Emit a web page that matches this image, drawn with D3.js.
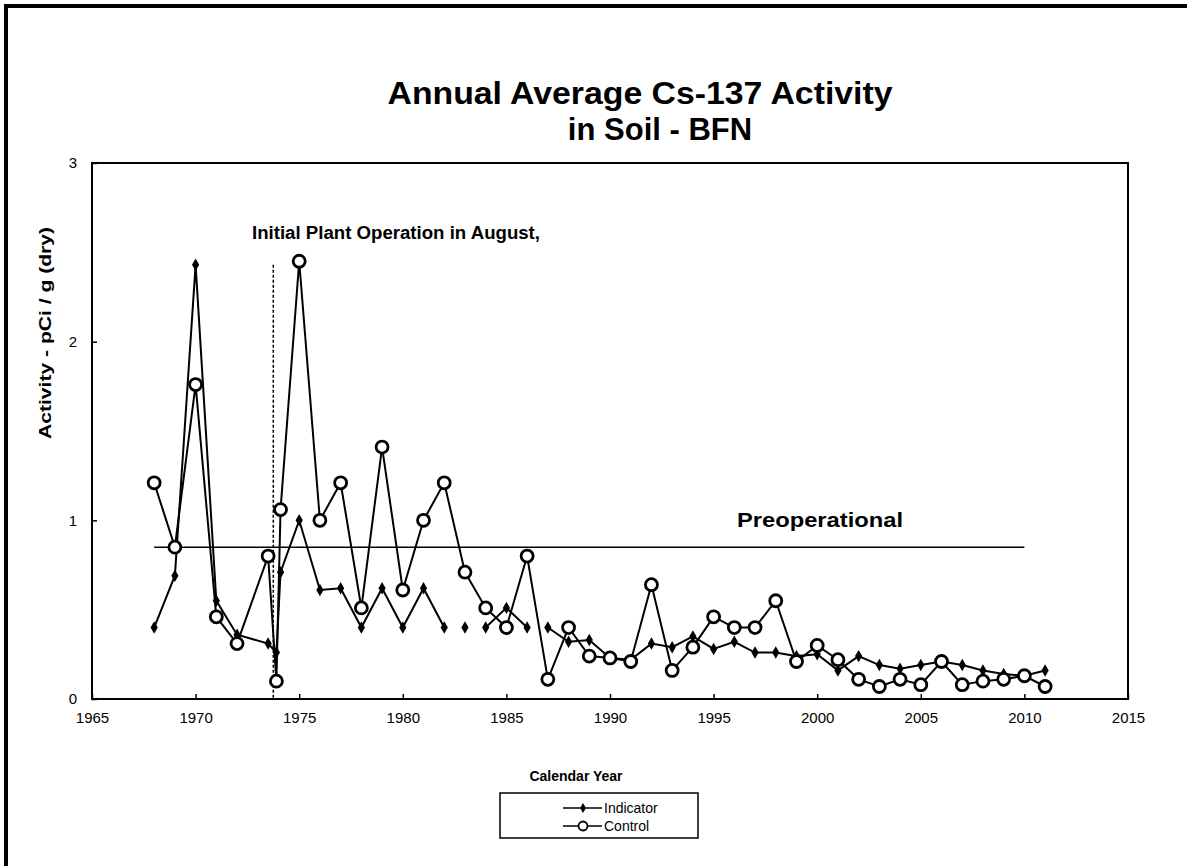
<!DOCTYPE html>
<html>
<head>
<meta charset="utf-8">
<script src="https://cdn.jsdelivr.net/npm/d3@7"></script>
<style>
  body { margin: 0; background: #fff; }
  svg { display: block; font-family: "Liberation Sans", Arial, sans-serif; }
</style>
</head>
<body>
<svg width="1187" height="866"></svg>
<script>
// data
var years = [1968, 1969, 1970, 1971, 1972, 1973.5, 1973.9, 1974.1, 1975, 1976,
    1977, 1978, 1979, 1980, 1981, 1982, 1983, 1984, 1985, 1986,
    1987, 1988, 1989, 1990, 1991, 1992, 1993, 1994, 1995, 1996,
    1997, 1998, 1999, 2000, 2001, 2002, 2003, 2004, 2005, 2006,
    2007, 2008, 2009, 2010, 2011];

var indicator = [0.40, 0.69, 2.43, 0.55, 0.36, 0.31, 0.26, 0.71, 1.00, 0.61,
    0.62, 0.40, 0.62, 0.40, 0.62, 0.40, 0.40, 0.40, 0.51, 0.40,
    0.40, 0.32, 0.33, 0.23, 0.22, 0.31, 0.29, 0.35, 0.28, 0.32,
    0.26, 0.26, 0.24, 0.25, 0.16, 0.24, 0.19, 0.17, 0.19, 0.21,
    0.19, 0.16, 0.14, 0.13, 0.16];

var control = [1.21, 0.85, 1.76, 0.46, 0.31, 0.80, 0.10, 1.06, 2.45, 1.00,
    1.21, 0.51, 1.41, 0.61, 1.00, 1.21, 0.71, 0.51, 0.40, 0.80,
    0.11, 0.40, 0.24, 0.23, 0.21, 0.64, 0.16, 0.29, 0.46, 0.40,
    0.40, 0.55, 0.21, 0.30, 0.22, 0.11, 0.07, 0.11, 0.08, 0.21,
    0.08, 0.10, 0.11, 0.13, 0.07];

// the indicator line is not drawn after these years in the original
var indicatorBreaks = [1982, 1983, 1986];

var preopLevel = 0.85,
    preopYears = [1968, 2010];

var operationYear = 1973.75,
    operationTop = 2.43;

var xTicks = [1965, 1970, 1975, 1980, 1985, 1990, 1995, 2000, 2005, 2010, 2015];
var yTicks = [0, 1, 2, 3];

var svg = d3.select("svg");

var x = d3.scaleLinear().domain([1965, 2015]).range([92, 1128]);
var y = d3.scaleLinear().domain([0, 3]).range([699, 163]);

// page frame (scan shows only left and top edges)
svg.append("line").attr("x1", 6).attr("y1", 5).attr("x2", 6).attr("y2", 866)
    .attr("stroke", "#000").attr("stroke-width", 4);
svg.append("line").attr("x1", 4).attr("y1", 6).attr("x2", 1187).attr("y2", 6)
    .attr("stroke", "#000").attr("stroke-width", 4);

// title
svg.append("text").attr("x", 640).attr("y", 104)
    .attr("text-anchor", "middle").attr("font-size", 31).attr("font-weight", "bold")
    .attr("textLength", 505).attr("lengthAdjust", "spacingAndGlyphs")
    .text("Annual Average Cs-137 Activity");
svg.append("text").attr("x", 660).attr("y", 140)
    .attr("text-anchor", "middle").attr("font-size", 31).attr("font-weight", "bold")
    .text("in Soil - BFN");

// axes
var xAxis = svg.append("g")
    .attr("transform", "translate(0," + y(0) + ")")
    .call(d3.axisBottom(x).tickValues(xTicks).tickFormat(d3.format("d"))
        .tickSizeInner(-5).tickSizeOuter(0).tickPadding(13));

var yAxis = svg.append("g")
    .attr("transform", "translate(" + x(1965) + ",0)")
    .call(d3.axisLeft(y).tickValues(yTicks).tickFormat(d3.format("d"))
        .tickSizeInner(-5).tickSizeOuter(0).tickPadding(15));

[xAxis, yAxis].forEach(function (g) {
    g.select(".domain").remove();
    g.selectAll("line").attr("stroke", "#000").attr("stroke-width", 1.5);
    g.selectAll("text").attr("font-size", 15).attr("font-family", "Liberation Sans, Arial, sans-serif")
        .attr("fill", "#000");
});

svg.append("rect")
    .attr("x", x(1965)).attr("y", y(3))
    .attr("width", x(2015) - x(1965)).attr("height", y(0) - y(3))
    .attr("fill", "none").attr("stroke", "#000").attr("stroke-width", 2);

svg.append("text")
    .attr("transform", "translate(51," + 333 + ") rotate(-90)")
    .attr("text-anchor", "middle").attr("font-size", 17).attr("font-weight", "bold")
    .attr("textLength", 212).attr("lengthAdjust", "spacingAndGlyphs")
    .text("Activity  -  pCi / g (dry)");

svg.append("text").attr("x", 576).attr("y", 781)
    .attr("text-anchor", "middle").attr("font-size", 14).attr("font-weight", "bold")
    .text("Calendar Year");

// reference lines
svg.append("line")
    .attr("x1", x(preopYears[0])).attr("x2", x(preopYears[1]))
    .attr("y1", y(preopLevel)).attr("y2", y(preopLevel))
    .attr("stroke", "#000").attr("stroke-width", 1.5);

svg.append("text").attr("x", 737).attr("y", 527)
    .attr("font-size", 21).attr("font-weight", "bold")
    .attr("textLength", 166).attr("lengthAdjust", "spacingAndGlyphs")
    .text("Preoperational");

svg.append("line")
    .attr("x1", x(operationYear)).attr("x2", x(operationYear))
    .attr("y1", y(operationTop)).attr("y2", y(0))
    .attr("stroke", "#000").attr("stroke-width", 1.5).attr("stroke-dasharray", "3,2");

svg.append("text").attr("x", 252).attr("y", 239)
    .attr("font-size", 18).attr("font-weight", "bold")
    .attr("textLength", 288).attr("lengthAdjust", "spacingAndGlyphs")
    .text("Initial Plant Operation in August,");

// series
var line = d3.line()
    .x(function (d) { return x(d.year); })
    .y(function (d) { return y(d.value); });

var indData = years.map(function (yr, i) { return { year: yr, value: indicator[i] }; });
var ctlData = years.map(function (yr, i) { return { year: yr, value: control[i] }; });

// split indicator into connected runs
var segments = [], run = [];
indData.forEach(function (d) {
    run.push(d);
    if (indicatorBreaks.indexOf(d.year) >= 0) { segments.push(run); run = []; }
});
segments.push(run);

svg.append("g").selectAll("path")
    .data(segments.filter(function (s) { return s.length > 1; }))
    .enter().append("path")
    .attr("d", line)
    .attr("fill", "none").attr("stroke", "#000").attr("stroke-width", 2);

svg.append("path")
    .datum(ctlData)
    .attr("d", line)
    .attr("fill", "none").attr("stroke", "#000").attr("stroke-width", 2);

var diamond = d3.symbol().type(d3.symbolDiamond).size(45);

svg.append("g").selectAll("path")
    .data(indData)
    .enter().append("path")
    .attr("transform", function (d) { return "translate(" + x(d.year) + "," + y(d.value) + ")"; })
    .attr("d", diamond)
    .attr("fill", "#000");

svg.append("g").selectAll("circle")
    .data(ctlData)
    .enter().append("circle")
    .attr("cx", function (d) { return x(d.year); })
    .attr("cy", function (d) { return y(d.value); })
    .attr("r", 6)
    .attr("fill", "#fff").attr("stroke", "#000").attr("stroke-width", 2.8);

// legend
var legend = svg.append("g").attr("transform", "translate(500,793)");
legend.append("rect").attr("width", 198).attr("height", 45)
    .attr("fill", "#fff").attr("stroke", "#000").attr("stroke-width", 1.5);

var legendItems = ["Indicator", "Control"];
var item = legend.selectAll(".item")
    .data(legendItems)
    .enter().append("g")
    .attr("class", "item")
    .attr("transform", function (d, i) { return "translate(0," + (15 + i * 18) + ")"; });

item.append("line").attr("x1", 63).attr("x2", 102)
    .attr("stroke", "#000").attr("stroke-width", 1.5);
item.filter(function (d) { return d === "Indicator"; }).append("path")
    .attr("transform", "translate(83,0)")
    .attr("d", d3.symbol().type(d3.symbolDiamond).size(30))
    .attr("fill", "#000");
item.filter(function (d) { return d === "Control"; }).append("circle")
    .attr("cx", 83).attr("r", 4.5)
    .attr("fill", "#fff").attr("stroke", "#000").attr("stroke-width", 1.8);
item.append("text").attr("x", 104).attr("dy", "0.35em")
    .attr("font-size", 14)
    .text(function (d) { return d; });
</script>
</body>
</html>
